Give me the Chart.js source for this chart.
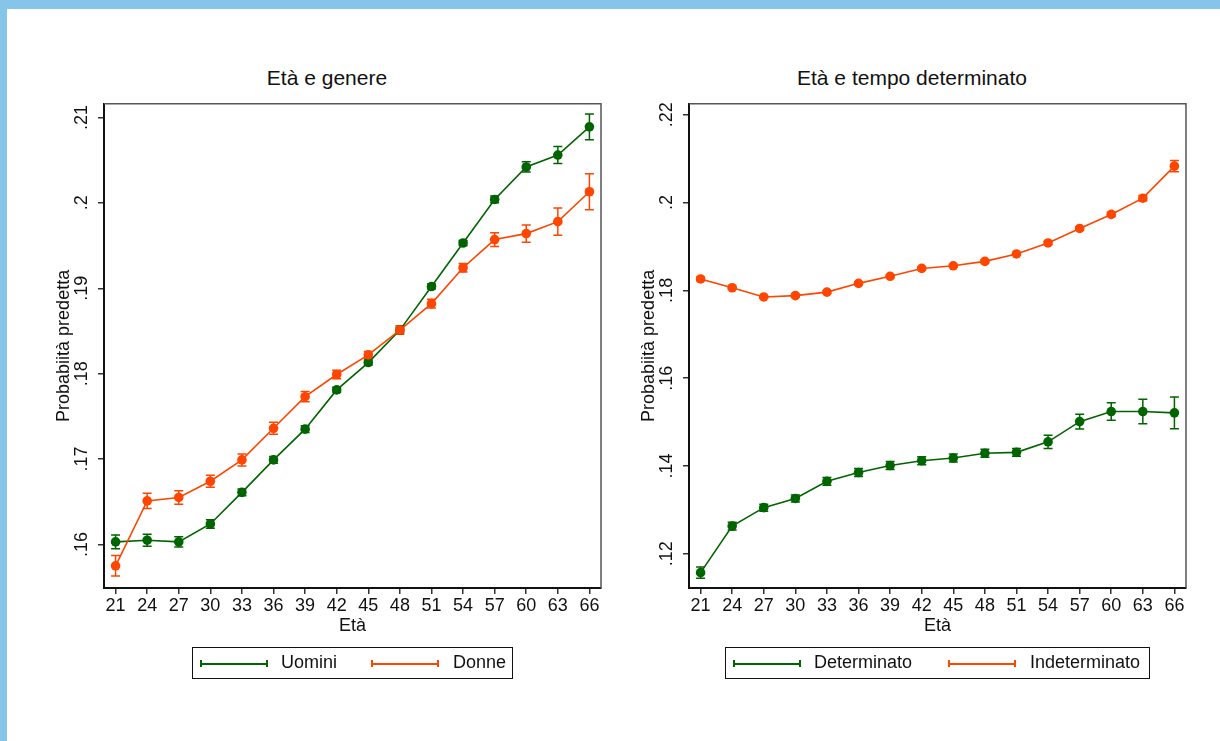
<!DOCTYPE html>
<html lang="it">
<head>
    <meta charset="UTF-8">
    <title>Età e genere / Età e tempo determinato</title>
    <script src="https://cdn.jsdelivr.net/npm/chart.js"></script>
    <style>
        body {
            margin: 0;
            width: 1220px;
            height: 741px;
            background: white;
            overflow: hidden;
            position: relative;
            font-family: 'Liberation Sans', Arial, sans-serif;
            color: #111;
        }
        .frame-top {
            position: absolute; left: 0; top: 0; width: 1220px; height: 9px;
            background: #86c5ea;
        }
        .frame-left {
            position: absolute; left: 0; top: 0; width: 7px; height: 741px;
            background: #86c5ea;
        }
        .panel {
            position: absolute;
            top: 90px;
            width: 600px;
            height: 560px;
        }
        .title {
            position: absolute;
            top: 67px;
            width: 400px;
            text-align: center;
            font-size: 21px;
            line-height: 21px;
            white-space: nowrap;
        }
        .legend {
            position: absolute;
            top: 647px;
            height: 30px;
            border: 1px solid #111;
            font-size: 18px;
        }
        .legend .sym {
            position: absolute;
            top: 12px;
            width: 64px;
            height: 7px;
            border-left: 2px solid currentColor;
            border-right: 2px solid currentColor;
            background: linear-gradient(currentColor, currentColor) center / 100% 2px no-repeat;
        }
        .legend .lab {
            position: absolute;
            top: 5px;
            line-height: 18px;
            color: #111;
            white-space: nowrap;
        }
    </style>
</head>
<body>
    <div class="frame-top"></div>
    <div class="frame-left"></div>

    <div class="title" style="left:127px">Età e genere</div>
    <div class="title" style="left:712px">Età e tempo determinato</div>

    <div class="panel" style="left:20px"><canvas id="leftChart" width="600" height="560"></canvas></div>
    <div class="panel" style="left:605px"><canvas id="rightChart" width="600" height="560"></canvas></div>

    <div class="legend" style="left:192px; width:319px">
        <span class="sym" style="left:7px; color:#006400"></span>
        <span class="lab" style="left:88px">Uomini</span>
        <span class="sym" style="left:178px; color:#ff4500"></span>
        <span class="lab" style="left:260px">Donne</span>
    </div>
    <div class="legend" style="left:725px; width:423px">
        <span class="sym" style="left:7px; color:#006400"></span>
        <span class="lab" style="left:88px">Determinato</span>
        <span class="sym" style="left:222px; color:#ff4500"></span>
        <span class="lab" style="left:304px">Indeterminato</span>
    </div>

    <script>
        // età (asse x, uguale per i due pannelli)
        const ages = [21, 24, 27, 30, 33, 36, 39, 42, 45, 48, 51, 54, 57, 60, 63, 66];

        // pannello sinistro: età e genere
        const uominiVals = [.1603, .1605, .1603, .1624, .1661, .1699, .1735, .1781, .1813, .1851, .1902, .1953, .2004, .2042, .2056, .2089];
        const uominiErr  = [.0008, .0007, .0006, .0005, .0004, .0004, .0004, .0003, .0003, .0003, .0003, .0003, .0004, .0006, .0010, .0015];
        const donneVals  = [.1575, .1651, .1655, .1674, .1699, .1736, .1773, .1799, .1822, .1851, .1882, .1924, .1957, .1964, .1978, .2013];
        const donneErr   = [.0012, .0009, .0008, .0007, .0007, .0007, .0006, .0005, .0004, .0005, .0005, .0005, .0008, .0010, .0016, .0021];
        const leftYTicks = [.16, .17, .18, .19, .20, .21];

        // pannello destro: età e tempo determinato
        const determVals = [.1157, .1263, .1305, .1326, .1365, .1385, .1401, .1412, .1418, .1429, .1431, .1455, .1501, .1524, .1524, .1521];
        const determErr  = [.0013, .0009, .0008, .0008, .0009, .0009, .0009, .0009, .0009, .0009, .0009, .0015, .0017, .0020, .0028, .0036];
        const indetVals  = [.1826, .1806, .1785, .1788, .1796, .1816, .1832, .1850, .1856, .1866, .1883, .1908, .1941, .1973, .2010, .2083];
        const indetErr   = [.0004, .0003, .0003, .0003, .0003, .0003, .0003, .0003, .0003, .0003, .0003, .0004, .0004, .0005, .0006, .0013];
        const rightYTicks = [.12, .14, .16, .18, .20, .22];

        const GREEN = "#006400";
        const ORANGE = "#ff4500";
        const FONT = "'Liberation Sans', Arial, sans-serif";

        // error bars (rcap) + thin top/right frame of the plot region
        const rcapPlugin = {
            id: "rcap",
            beforeDatasetsDraw(chart) {
                const ctx = chart.ctx;
                const area = chart.chartArea;
                const xs = chart.scales.x, ys = chart.scales.y;

                ctx.save();
                ctx.strokeStyle = "#555";
                ctx.lineWidth = 1.5;
                ctx.beginPath();
                ctx.moveTo(area.left, area.top);
                ctx.lineTo(area.right, area.top);
                ctx.lineTo(area.right, area.bottom);
                ctx.stroke();

                chart.data.datasets.forEach(function (ds) {
                    ctx.strokeStyle = ds.borderColor;
                    ctx.lineWidth = 1.5;
                    ds.data.forEach(function (p, i) {
                        const x = xs.getPixelForValue(p.x);
                        const lo = ys.getPixelForValue(p.y - ds.err[i]);
                        const hi = ys.getPixelForValue(p.y + ds.err[i]);
                        ctx.beginPath();
                        ctx.moveTo(x, lo);
                        ctx.lineTo(x, hi);
                        ctx.moveTo(x - 4.5, lo);
                        ctx.lineTo(x + 4.5, lo);
                        ctx.moveTo(x - 4.5, hi);
                        ctx.lineTo(x + 4.5, hi);
                        ctx.stroke();
                    });
                });
                ctx.restore();
            }
        };

        function series(vals, err, color, order) {
            return {
                data: ages.map((a, i) => ({ x: a, y: vals[i] })),
                err: err,
                borderColor: color,
                backgroundColor: color,
                borderWidth: 1.6,
                pointRadius: 4.8,
                pointBorderWidth: 0,
                tension: 0,
                order: order
            };
        }

        function fmt(v) {
            return String(+v.toFixed(2)).replace(/^0\./, ".");
        }

        function makeChart(id, datasets, yMin, yMax, yTicks) {
            return new Chart(document.getElementById(id), {
                type: "line",
                data: { datasets: datasets },
                options: {
                    responsive: false,
                    animation: false,
                    events: [],
                    layout: { padding: { top: 6, right: 19, left: 0, bottom: 0 } },
                    plugins: { legend: { display: false }, tooltip: { enabled: false } },
                    scales: {
                        x: {
                            type: "linear",
                            min: 19.9,
                            max: 67.1,
                            afterBuildTicks: s => { s.ticks = ages.map(v => ({ value: v })); },
                            afterFit: s => { s.height = 62; },
                            grid: { display: true, drawOnChartArea: false, drawTicks: true, tickLength: 6, color: "#333", lineWidth: 1.5 },
                            border: { display: true, color: "#111", width: 2 },
                            ticks: { autoSkip: false, maxRotation: 0, padding: 1, color: "#111", font: { family: FONT, size: 18 } },
                            title: { display: true, text: "Età", color: "#111", font: { family: FONT, size: 18 }, padding: { top: 0, bottom: 13 } }
                        },
                        y: {
                            type: "linear",
                            min: yMin,
                            max: yMax,
                            afterBuildTicks: s => { s.ticks = yTicks.map(v => ({ value: v })); },
                            afterFit: s => { s.width = 84; },
                            grid: { display: true, drawOnChartArea: false, drawTicks: true, tickLength: 6, color: "#333", lineWidth: 1.5 },
                            border: { display: true, color: "#111", width: 2 },
                            ticks: {
                                autoSkip: false, minRotation: 90, maxRotation: 90, crossAlign: "center", padding: 3,
                                color: "#111", font: { family: FONT, size: 18 },
                                callback: v => fmt(v)
                            },
                            title: { display: true, text: "Probabiità predetta", color: "#111", font: { family: FONT, size: 18 }, padding: { top: 33, bottom: 0 } }
                        }
                    }
                },
                plugins: [rcapPlugin]
            });
        }

        makeChart("leftChart", [
            series(uominiVals, uominiErr, GREEN, 1),
            series(donneVals, donneErr, ORANGE, 0)
        ], .1549, .2116, leftYTicks);

        makeChart("rightChart", [
            series(determVals, determErr, GREEN, 1),
            series(indetVals, indetErr, ORANGE, 0)
        ], .1122, .2225, rightYTicks);
    </script>
</body>
</html>
